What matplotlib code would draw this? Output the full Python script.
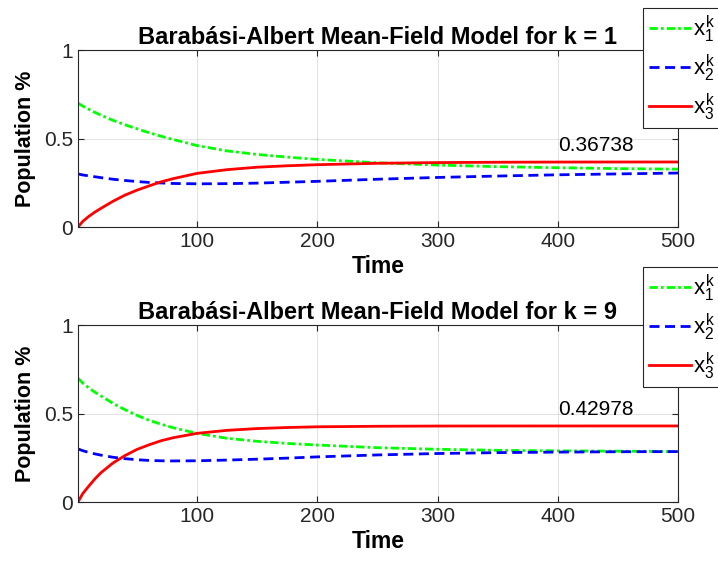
import matplotlib
matplotlib.use("Agg")
import matplotlib.pyplot as plt
import numpy as np

# time samples
t_k1 = [1, 5, 10, 15, 20, 30, 40, 50, 60, 70, 80, 100, 125, 150, 175, 200, 250, 300, 350, 400, 450, 500]
x1_k1 = [0.700, 0.683, 0.665, 0.648, 0.632, 0.603, 0.578, 0.555, 0.533, 0.513, 0.495, 0.460, 0.430, 0.410,
         0.395, 0.382, 0.363, 0.350, 0.341, 0.335, 0.330, 0.327]
x2_k1 = [0.300, 0.294, 0.289, 0.284, 0.279, 0.270, 0.263, 0.257, 0.252, 0.249, 0.246, 0.244, 0.245, 0.248,
         0.253, 0.258, 0.270, 0.280, 0.288, 0.295, 0.300, 0.305]
x3_k1 = [0.000, 0.032, 0.060, 0.084, 0.105, 0.145, 0.180, 0.208, 0.232, 0.255, 0.273, 0.303, 0.324, 0.338,
         0.346, 0.352, 0.360, 0.364, 0.366, 0.367, 0.3673, 0.36738]

t_k9 = [1, 5, 10, 15, 20, 30, 40, 50, 60, 70, 80, 100, 125, 150, 175, 200, 250, 300, 350, 400, 450, 500]
x1_k9 = [0.700, 0.672, 0.645, 0.621, 0.600, 0.558, 0.522, 0.490, 0.462, 0.440, 0.420, 0.388, 0.360, 0.343,
         0.331, 0.322, 0.307, 0.298, 0.292, 0.289, 0.287, 0.285]
x2_k9 = [0.300, 0.290, 0.280, 0.272, 0.265, 0.253, 0.245, 0.239, 0.235, 0.233, 0.232, 0.233, 0.237, 0.242,
         0.248, 0.255, 0.266, 0.274, 0.279, 0.282, 0.284, 0.285]
x3_k9 = [0.000, 0.048, 0.090, 0.130, 0.165, 0.220, 0.262, 0.297, 0.323, 0.346, 0.363, 0.388, 0.405, 0.415,
         0.421, 0.425, 0.428, 0.4293, 0.4296, 0.4297, 0.42978, 0.42978]

final_k1 = 0.36738
final_k9 = 0.42978

plt.rcParams['font.family'] = ['Liberation Sans', 'DejaVu Sans']
plt.rcParams['mathtext.fontset'] = 'custom'
plt.rcParams['mathtext.rm'] = 'Liberation Sans'
plt.rcParams['mathtext.it'] = 'Liberation Sans'

axcol = '#262626'
fig = plt.figure(figsize=(7.18, 5.64), dpi=100)

panels = [
    (1, t_k1, x1_k1, x2_k1, x3_k1, final_k1, [0.1086, 0.5975, 0.8357, 0.3138], 1 - 8 / 564),
    (9, t_k9, x1_k9, x2_k9, x3_k9, final_k9, [0.1086, 0.1099, 0.8357, 0.3138], 1 - 267 / 564),
]

for k, t, a, b, c, final, rect, leg_top in panels:
    ax = fig.add_axes(rect)
    l1, = ax.plot(t, a, color=(0, 1, 0), linestyle=(0, (3, 1.1, 1, 1.1)), lw=2)
    l2, = ax.plot(t, b, color=(0, 0, 1), linestyle=(0, (3.6, 2)), lw=2)
    l3, = ax.plot(t, c, color=(1, 0, 0), linestyle='-', lw=2)
    ax.text(400, final + 0.095, f'{final:.5f}', fontsize=15, va='center', ha='left')
    ax.set_xlim(1, 500)
    ax.set_ylim(0, 1)
    ax.set_xticks([100, 200, 300, 400, 500])
    ax.set_yticks([0, 0.5, 1])
    ax.set_yticklabels(['0', '0.5', '1'])
    ax.grid(True, color=axcol, alpha=0.12, lw=0.8)
    ax.tick_params(direction='in', top=True, right=True, labelsize=15, colors=axcol,
                   labelcolor=axcol, length=4)
    for s in ax.spines.values():
        s.set_color(axcol)
        s.set_linewidth(0.8)
    ax.set_title(f'Barabási-Albert Mean-Field Model for k = {k}', fontsize=17,
                 fontweight='bold', pad=4)
    ax.set_xlabel('Time', fontsize=16.5, fontweight='bold', labelpad=3)
    ax.set_ylabel('Population %', fontsize=15.5, fontweight='bold', labelpad=6)
    leg = fig.legend([l1, l2, l3], [r'$x_1^k$', r'$x_2^k$', r'$x_3^k$'],
                     loc='upper left', bbox_to_anchor=(643 / 718, leg_top),
                     fontsize=16, fancybox=False, framealpha=1, edgecolor=axcol,
                     handlelength=1.9, handletextpad=0.12, labelspacing=0.35,
                     borderpad=0.25, borderaxespad=0)
    leg.get_frame().set_linewidth(0.8)

fig.savefig('out.png', dpi=100)
